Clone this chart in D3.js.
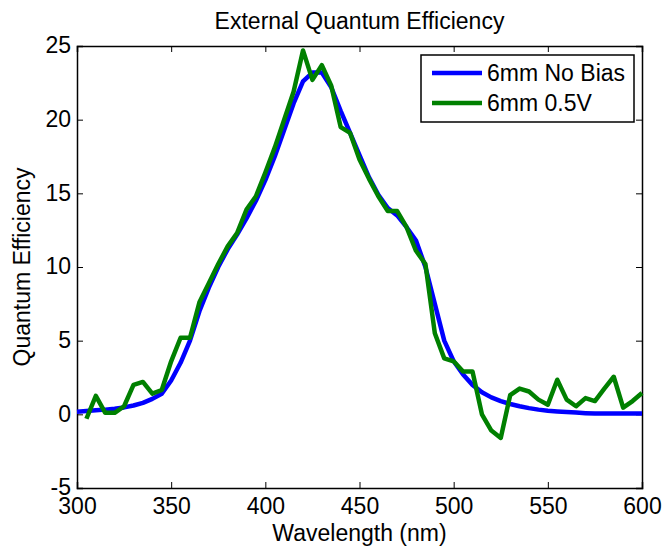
<!DOCTYPE html>
<html>
<head>
<meta charset="utf-8">
<script src="https://d3js.org/d3.v7.min.js"></script>
<style>
  body { margin: 0; background: #fff; }
  text { font-family: "Liberation Sans", Arial, sans-serif; fill: #000; }
</style>
</head>
<body>
<div id="chart"></div>
<script>
// wavelengths (nm)
var wlBlue = [300,305,310,315,320,325,330,335,340,345,350,355,360,365,370,375,380,385,390,395,
  400,405,410,415,420,425,430,435,440,445,450,455,460,465,470,475,480,485,490,495,
  500,505,510,515,520,525,530,535,540,545,550,555,560,565,570,575,580,585,590,595,600];
var noBias = [0.18,0.22,0.27,0.32,0.38,0.47,0.6,0.78,1.05,1.4,2.3,3.5,5.0,7.0,8.6,10.0,11.2,12.2,13.3,14.5,
  15.9,17.5,19.3,21.1,22.6,23.2,23.2,22.2,20.6,19.1,17.6,16.1,14.9,14.0,13.5,12.7,11.8,10.0,7.5,5.0,
  3.6,2.7,2.0,1.5,1.15,0.9,0.7,0.55,0.42,0.32,0.25,0.2,0.16,0.12,0.08,0.05,0.05,0.05,0.05,0.05,0.05];

var wlGreen = wlBlue.slice(1);
var bias05 = [-0.3,1.25,0.1,0.1,0.55,2.0,2.2,1.4,1.65,3.6,5.2,5.2,7.6,8.9,10.2,11.4,12.3,13.9,14.8,
  16.4,18.1,20.0,21.9,24.7,22.7,23.7,22.3,19.5,19.1,17.3,16.0,14.8,13.8,13.8,12.7,11.1,10.2,5.5,3.8,
  3.6,2.9,2.9,0.0,-1.1,-1.6,1.3,1.75,1.55,1.0,0.65,2.35,1.0,0.55,1.1,0.9,1.75,2.55,0.45,0.9,1.45];

var seriesNames = ["6mm No Bias", "6mm 0.5V"];
var seriesColors = ["#0000ff", "#008000"];
var xTicks = [300,350,400,450,500,550,600];
var yTicks = [-5,0,5,10,15,20,25];

var W = 663, H = 548;
var margin = {left: 77, right: 21, top: 46, bottom: 60};
var pw = W - margin.left - margin.right, ph = H - margin.top - margin.bottom;

var svg = d3.select("#chart").append("svg")
  .attr("width", W).attr("height", H);

var g = svg.append("g")
  .attr("transform", "translate(" + margin.left + "," + margin.top + ")");

var x = d3.scaleLinear().domain([300, 600]).range([0, pw]);
var y = d3.scaleLinear().domain([-5, 25]).range([ph, 0]);

var fs = "23px";
var plain = function (d) { return String(d); }; // keep hyphen minus like the original

// axes with inward ticks on all four sides
var xAx = g.append("g").attr("transform", "translate(0," + ph + ")")
  .call(d3.axisBottom(x).tickValues(xTicks).tickSize(-6).tickPadding(10).tickFormat(plain));
var xTop = g.append("g")
  .call(d3.axisTop(x).tickValues(xTicks).tickSize(-6).tickFormat(""));
var yAx = g.append("g")
  .call(d3.axisLeft(y).tickValues(yTicks).tickSize(-6).tickPadding(6).tickFormat(plain));
var yRight = g.append("g").attr("transform", "translate(" + pw + ",0)")
  .call(d3.axisRight(y).tickValues(yTicks).tickSize(-6).tickFormat(""));

[xAx, xTop, yAx, yRight].forEach(function (a) {
  a.select(".domain").attr("stroke", "#000").attr("stroke-width", 1.5);
  a.selectAll(".tick line").attr("stroke", "#000").attr("stroke-width", 1);
  a.selectAll("text").style("font-size", fs).attr("fill", "#000");
});
yAx.selectAll("text").attr("dy", "0.3em");

var line = d3.line()
  .x(function (d) { return x(d[0]); })
  .y(function (d) { return y(d[1]); });

var blueData = wlBlue.map(function (w, i) { return [w, noBias[i]]; });
var greenData = wlGreen.map(function (w, i) { return [w, bias05[i]]; });

g.append("path").datum(blueData)
  .attr("d", line).attr("fill", "none")
  .attr("stroke", seriesColors[0]).attr("stroke-width", 4.5)
  .attr("stroke-linejoin", "round");
g.append("path").datum(greenData)
  .attr("d", line).attr("fill", "none")
  .attr("stroke", seriesColors[1]).attr("stroke-width", 4.5)
  .attr("stroke-linejoin", "round");

// title and labels
svg.append("text")
  .attr("x", margin.left + pw / 2).attr("y", 29)
  .attr("text-anchor", "middle").style("font-size", fs)
  .text("External Quantum Efficiency");
svg.append("text")
  .attr("x", margin.left + pw / 2).attr("y", 541)
  .attr("text-anchor", "middle").style("font-size", fs)
  .text("Wavelength (nm)");
svg.append("text")
  .attr("transform", "translate(30," + (margin.top + ph / 2) + ") rotate(-90)")
  .attr("text-anchor", "middle").style("font-size", fs)
  .text("Quantum Efficiency");

// legend
var lg = svg.append("g").attr("transform", "translate(421,55)");
lg.append("rect").attr("width", 213).attr("height", 67)
  .attr("fill", "#fff").attr("stroke", "#000").attr("stroke-width", 1.5);
seriesNames.forEach(function (name, i) {
  var ly = 18 + i * 30;
  lg.append("line").attr("x1", 11).attr("x2", 61).attr("y1", ly).attr("y2", ly)
    .attr("stroke", seriesColors[i]).attr("stroke-width", 4.5);
  lg.append("text").attr("x", 66).attr("y", ly).attr("dy", "0.36em")
    .style("font-size", fs).text(name);
});
</script>
</body>
</html>
